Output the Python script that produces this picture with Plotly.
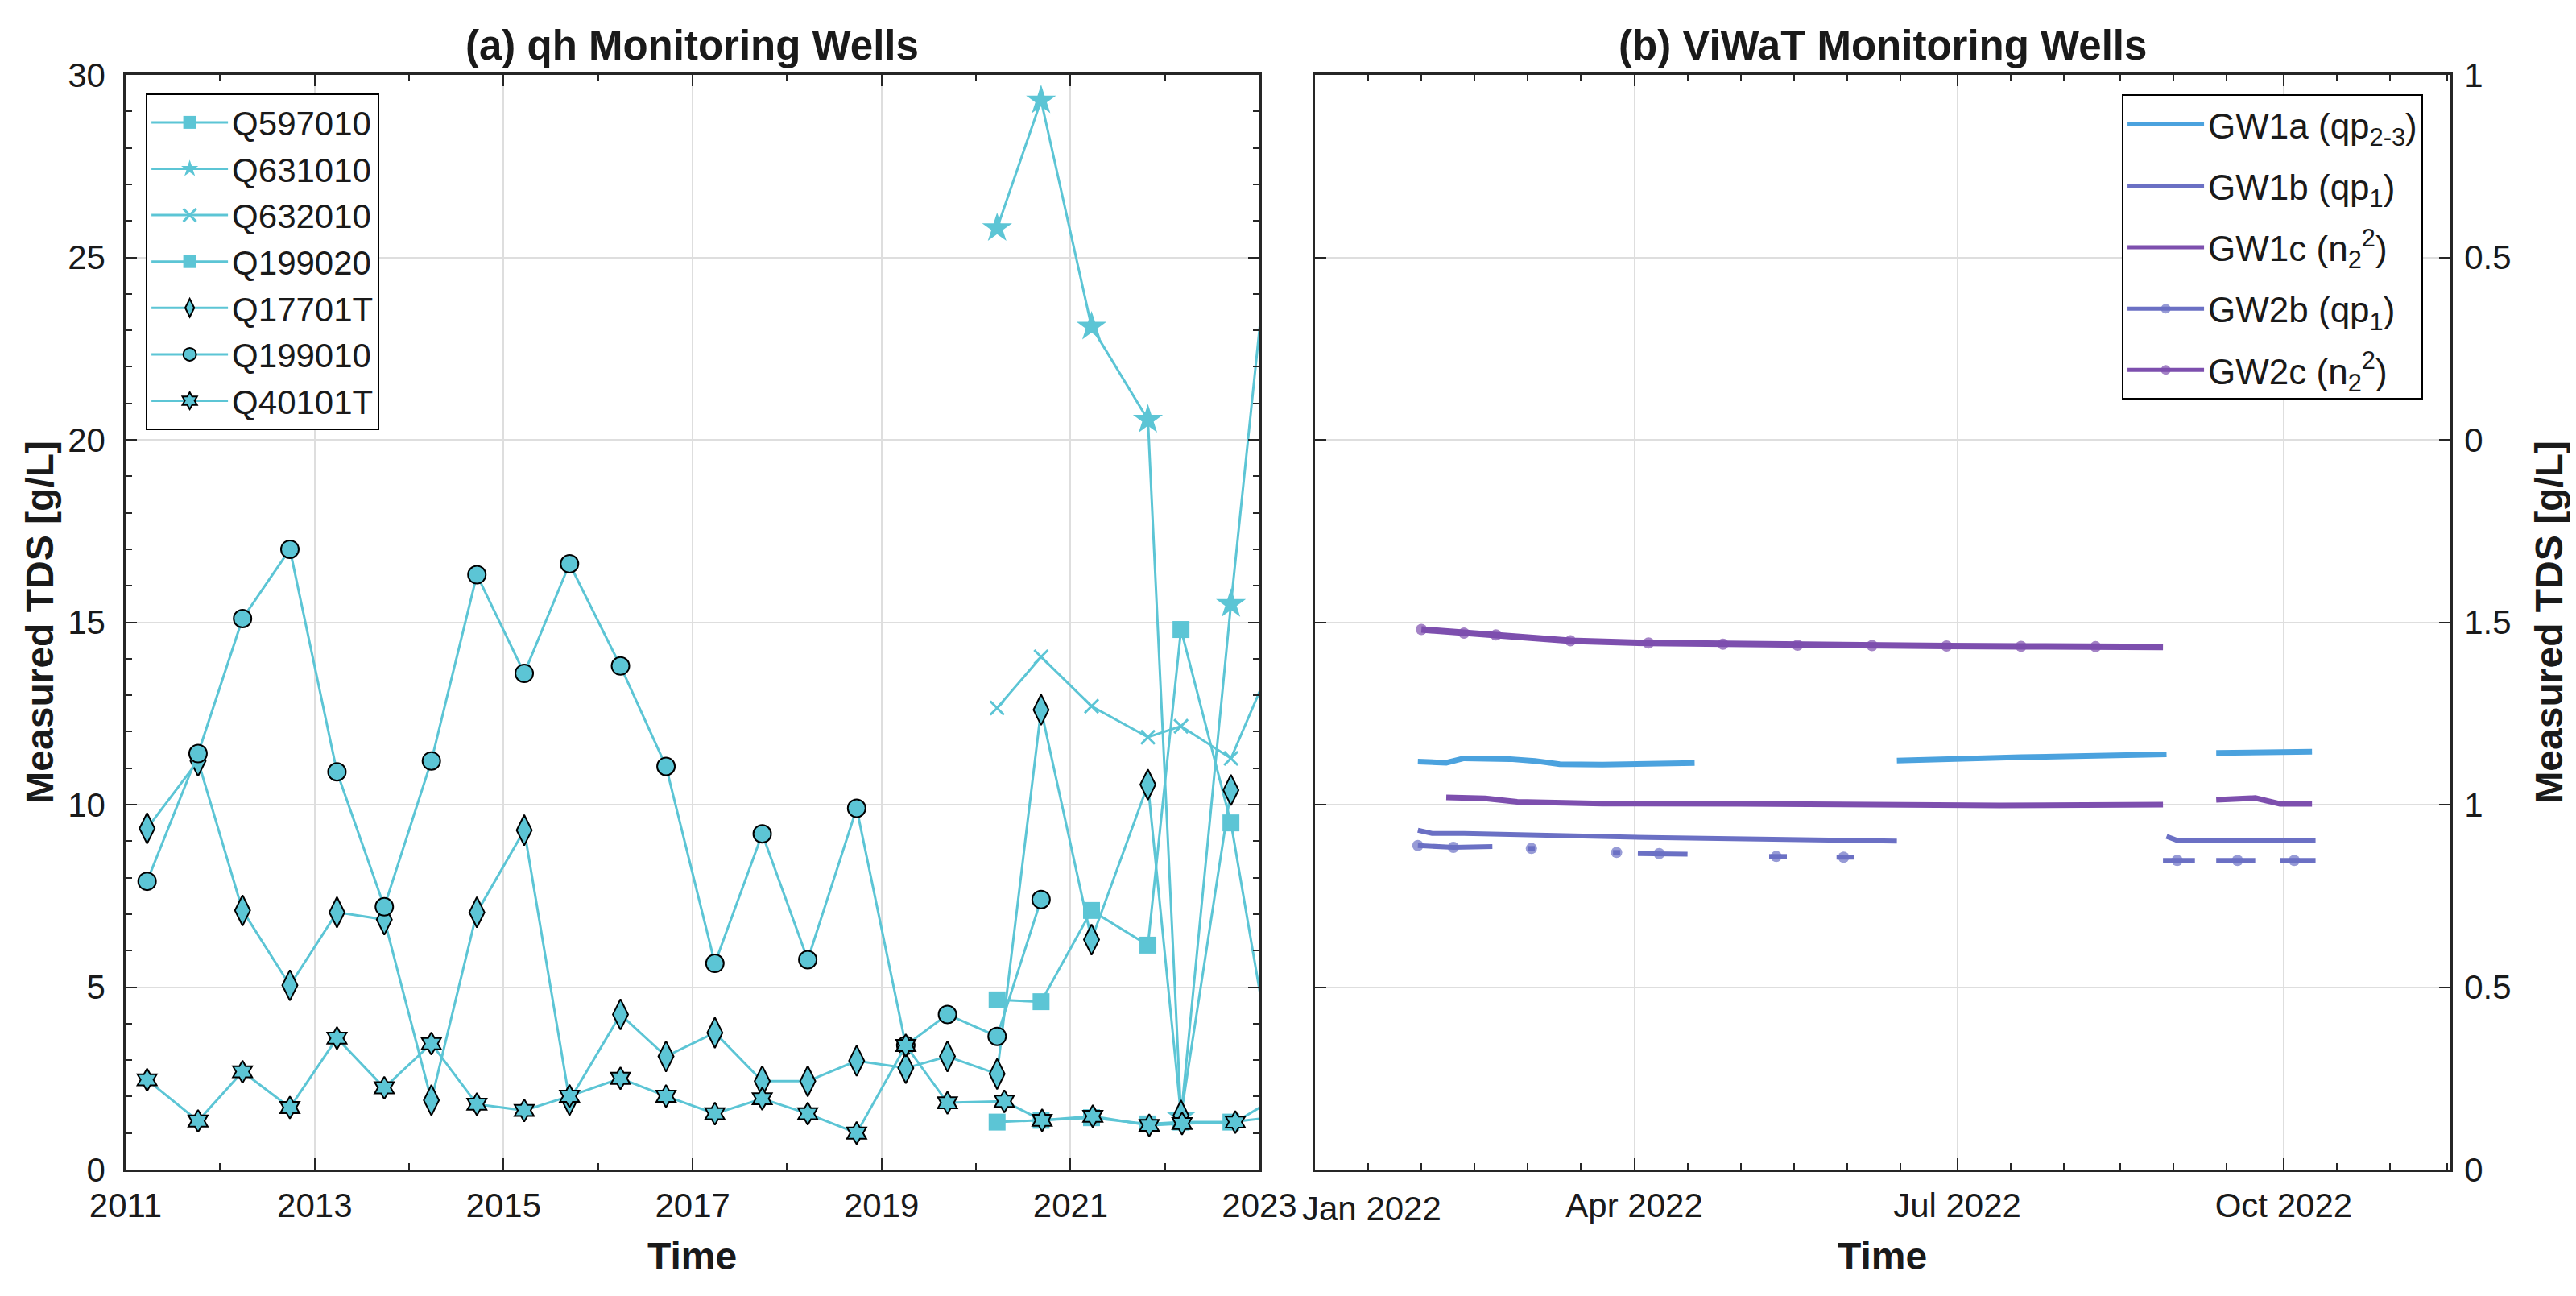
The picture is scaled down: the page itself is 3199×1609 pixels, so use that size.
import plotly.graph_objects as go
import pandas as pd

# ---------------- data: panel (a) qh monitoring wells ----------------
qh_dates = ["2011-03-25", "2011-10-08", "2012-03-28", "2012-09-27", "2013-03-28",
            "2013-09-27", "2014-03-28", "2014-09-20", "2015-03-22", "2015-09-13",
            "2016-03-28", "2016-09-20", "2017-03-28", "2017-09-27", "2018-03-22",
            "2018-09-27", "2019-04-05", "2019-09-13", "2020-03-23", "2020-09-09",
            "2021-03-23", "2021-10-27", "2022-03-04", "2022-09-13", "2023-03-15"]
q40101t_dates = ["2011-03-25", "2011-10-08", "2012-03-28", "2012-09-27", "2013-03-28",
                 "2013-09-27", "2014-03-28", "2014-09-20", "2015-03-22", "2015-09-13",
                 "2016-03-28", "2016-09-20", "2017-03-28", "2017-09-27", "2018-03-22",
                 "2018-09-27", "2019-04-05", "2019-09-13", "2020-04-20", "2020-09-13",
                 "2021-03-28", "2021-11-01", "2022-03-08", "2022-09-30", "2023-03-15"]

N = None
Q597010 = [N] * 18 + [4.65, 4.6, 7.1, 6.15, 14.8, 9.5, 1.9]
Q631010 = [N] * 18 + [25.8, 29.3, 23.1, 20.55, 1.45, 15.5, 28.0]
Q632010 = [N] * 18 + [12.65, 14.05, 12.7, 11.85, 12.15, 11.27, 14.3]
Q199020 = [N] * 18 + [1.3, 1.35, 1.42, 1.25, 1.3, 1.3, 1.45]
Q17701T = [9.35, 11.2, 7.1, 5.05, 7.05, 6.85, 1.9, 7.05, 9.3, 1.9, 4.25, 3.1, 3.75,
           2.42, 2.42, 2.98, 2.78, 3.1, 2.62, 12.6, 6.3, 10.55, 1.48, 10.4, N]
Q199010 = [7.9, 11.4, 15.1, 17.0, 10.9, 7.2, 11.2, 16.3, 13.6, 16.6, 13.8, 11.05, 5.65,
           9.2, 5.75, 9.9, 3.4, 4.25, 3.65, 7.4, N, N, N, N, N]
Q40101T = [2.46, 1.33, 2.68, 1.70, 3.6, 2.24, 3.45, 1.79, 1.62, 2.01, 2.50, 2.01, 1.53,
           1.94, 1.53, 1.0, 3.4, 1.83, 1.87, 1.35, 1.46, 1.21, 1.26, 1.30, 2.0]

# ---------------- data: panel (b) ViWaT monitoring wells ----------------
GW1a_dates = ["2022-01-30", "2022-02-07", "2022-02-12", "2022-02-25", "2022-03-04",
              "2022-03-11", "2022-03-23", "2022-04-18", "2022-05-01", "2022-06-14",
              "2022-06-26", "2022-07-19", "2022-08-29", "2022-09-05", "2022-09-12",
              "2022-10-09"]
GW1a = [1.118, 1.115, 1.127, 1.125, 1.12, 1.111, 1.11, 1.114, N, 1.121,
        1.123, 1.13, 1.138, N, 1.142, 1.145]

GW1b_dates = ["2022-01-30", "2022-02-03", "2022-02-12", "2022-03-03", "2022-04-05",
              "2022-06-14", "2022-07-01", "2022-08-29", "2022-09-01", "2022-10-10"]
GW1b = [0.93, 0.921, 0.921, 0.917, 0.91, 0.90, N, 0.913, 0.902, 0.902]

GW1c_dates = ["2022-02-07", "2022-02-18", "2022-02-27", "2022-03-23", "2022-05-01",
              "2022-07-13", "2022-08-28", "2022-09-05", "2022-09-12", "2022-09-23",
              "2022-09-30", "2022-10-09"]
GW1c = [1.02, 1.017, 1.008, 1.003, 1.002, 0.998, 1.0, N, 1.013, 1.018, 1.002, 1.002]

GW2b_dates = ["2022-01-30", "2022-02-09", "2022-02-20", "2022-02-25",
              "2022-03-02", "2022-03-03", "2022-03-04", "2022-03-15",
              "2022-03-26", "2022-03-27", "2022-03-28", "2022-03-30",
              "2022-04-02", "2022-04-08", "2022-04-16", "2022-04-30",
              "2022-05-09", "2022-05-11", "2022-05-14", "2022-05-20",
              "2022-05-28", "2022-05-30", "2022-06-02", "2022-07-01",
              "2022-08-28", "2022-09-01", "2022-09-06", "2022-09-09",
              "2022-09-12", "2022-09-18", "2022-09-23", "2022-09-27",
              "2022-09-30", "2022-10-04", "2022-10-10"]
GW2b = [0.888, 0.883, 0.885, N,
        0.88, 0.88, 0.88, N,
        0.869, 0.869, 0.869, N,
        0.866, 0.866, 0.864, N,
        0.858, 0.858, 0.858, N,
        0.856, 0.856, 0.856, N,
        0.847, 0.847, 0.847, N,
        0.847, 0.847, 0.847, N,
        0.847, 0.847, 0.847]
GW2b_marks = ["2022-01-30", "2022-02-09", "2022-03-03", "2022-03-27", "2022-04-08",
              "2022-05-11", "2022-05-30", "2022-09-01", "2022-09-18", "2022-10-04"]

GW2c_dates = ["2022-01-31", "2022-02-12", "2022-02-21", "2022-03-14", "2022-04-05",
              "2022-04-26", "2022-05-17", "2022-06-07", "2022-06-28", "2022-07-19",
              "2022-08-09", "2022-08-28"]
GW2c = [1.48, 1.47, 1.465, 1.449, 1.443, 1.44, 1.437, 1.436, 1.435, 1.434, 1.433, 1.432]
GW2c_marks = GW2c_dates[:-1]

right_ytick_vals = [0, 0.5, 1, 1.5, 2, 2.5, 3]
right_ytick_text = ["0", "0.5", "1", "1.5", "0", "0.5", "1"]
right_xtick_vals = ["2022-01-01", "2022-04-01", "2022-07-01", "2022-10-01"]
right_xtick_text = ["", "Apr 2022", "Jul 2022", "Oct 2022"]

# ---------------- styling ----------------
FONT = "Liberation Sans Narrow, Arial Narrow, Liberation Sans, Arial, sans-serif"
CYAN = "#5CC5D5"
BLUE = "#4BA2DE"
VIOLET = "#6B70C4"
PURPLE = "#7D4FAE"
GRID = "#DEDEDE"
AX = "#262626"
TXT = "#1a1a1a"

fig = go.Figure()


def add_qh(name, dates, vals, symbol, size, edge):
    if symbol == "x-thin":
        mk = dict(symbol=symbol, size=size, color=CYAN, line=dict(color=CYAN, width=3))
    else:
        mk = dict(symbol=symbol, size=size, color=CYAN,
                  line=dict(color="black" if edge else CYAN, width=2 if edge else 0))
    fig.add_trace(go.Scatter(x=dates, y=vals, name=name, mode="lines+markers",
                             line=dict(color=CYAN, width=3), marker=mk,
                             xaxis="x", yaxis="y", legend="legend"))


add_qh("Q597010", qh_dates, Q597010, "square", 21, False)
add_qh("Q631010", qh_dates, Q631010, "star", 28, False)
add_qh("Q632010", qh_dates, Q632010, "x-thin", 17, False)
add_qh("Q199020", qh_dates, Q199020, "square", 21, False)
add_qh("Q17701T", qh_dates, Q17701T, "diamond-tall", 27, True)
add_qh("Q199010", qh_dates, Q199010, "circle", 22, True)
add_qh("Q40101T", q40101t_dates, Q40101T, "hexagram", 21, True)


def add_gw(name, dates, vals, color, width, marks=None):
    if marks is None:
        mode, mk = "lines", None
    else:
        mode = "lines+markers"
        sizes = [14 if d in marks else 0 for d in dates]
        mk = dict(symbol="circle", size=sizes, color=color, line=dict(width=0))
    fig.add_trace(go.Scatter(x=dates, y=vals, name=name, mode=mode,
                             line=dict(color=color, width=width), marker=mk,
                             legendgroup=name, xaxis="x2", yaxis="y2", legend="legend2"))


add_gw("GW1a (qp<sub>2-3</sub>)", GW1a_dates, GW1a, BLUE, 7)
add_gw("GW1b (qp<sub>1</sub>)", GW1b_dates, GW1b, VIOLET, 6)
add_gw("GW1c (n<sub>2</sub><sup>2</sup>)", GW1c_dates, GW1c, PURPLE, 7)
add_gw("GW2b (qp<sub>1</sub>)", GW2b_dates, GW2b, VIOLET, 6, GW2b_marks)
add_gw("GW2c (n<sub>2</sub><sup>2</sup>)", GW2c_dates, GW2c, PURPLE, 8, GW2c_marks)

# minor ticks for right panel: each quarter split in six
minor_vals = []
qs = pd.date_range("2022-01-01", "2023-01-01", freq="QS")
for a, b in zip(qs[:-1], qs[1:]):
    for k in range(1, 6):
        minor_vals.append((a + (b - a) * k / 6).strftime("%Y-%m-%d"))
minor_vals = [v for v in minor_vals if v < "2022-11-17"]

common_axis = dict(showline=True, linecolor=AX, linewidth=2.5, mirror="ticks",
                   ticks="inside", ticklen=14, tickwidth=2, tickcolor=AX,
                   showgrid=True, gridcolor=GRID, gridwidth=2, zeroline=False,
                   tickfont=dict(size=42, color=TXT))

L0, L1, R0 = 0.0, 0.4877, 0.5116

fig.update_layout(
    width=3199, height=1609,
    margin=dict(l=148, r=164, t=85, b=165),
    paper_bgcolor="white", plot_bgcolor="white",
    font=dict(family=FONT, size=42, color=TXT),
    xaxis=dict(domain=[L0, L1], anchor="y", type="date",
               range=["2011-01-01", "2023-01-01"],
               tickmode="linear", tick0="2011-01-01", dtick="M24", tickformat="%Y",
               ticklabelstandoff=6,
               minor=dict(dtick="M12", tick0="2011-01-01", ticklen=8, tickwidth=2,
                          tickcolor=AX, ticks="inside", showgrid=False),
               **common_axis),
    yaxis=dict(domain=[0, 1], anchor="x", range=[0, 30], tickmode="linear", dtick=5,
               ticklabelstandoff=14,
               minor=dict(dtick=1, ticklen=8, tickwidth=2, tickcolor=AX,
                          ticks="inside", showgrid=False),
               **common_axis),
    xaxis2=dict(domain=[R0, 1], anchor="y2", type="date",
                range=["2022-01-01", "2022-11-17"],
                tickmode="array", tickvals=right_xtick_vals, ticktext=right_xtick_text,
                ticklabelstandoff=6,
                minor=dict(tickmode="array", tickvals=minor_vals, ticklen=8,
                           tickwidth=2, tickcolor=AX, ticks="inside", showgrid=False),
                **common_axis),
    yaxis2=dict(domain=[0, 1], anchor="x2", side="right", range=[0, 3],
                tickmode="array", tickvals=right_ytick_vals, ticktext=right_ytick_text,
                ticklabelstandoff=6,
                **common_axis),
    legend=dict(x=0.0087, y=0.983, xanchor="left", yanchor="top",
                bgcolor="white", bordercolor="black", borderwidth=2,
                font=dict(size=42), itemsizing="trace", itemwidth=95),
    legend2=dict(x=0.8587, y=0.982, xanchor="left", yanchor="top",
                 bgcolor="white", bordercolor="black", borderwidth=2,
                 font=dict(size=44), itemsizing="constant", itemwidth=95,
                 tracegroupgap=16),
    showlegend=True,
)

ann = [
    dict(text="<b>(a) qh Monitoring Wells</b>", x=(L0 + L1) / 2, y=1.027,
         xref="paper", yref="paper", showarrow=False, font=dict(size=51),
         xanchor="center", yanchor="middle"),
    dict(text="<b>(b) ViWaT Monitoring Wells</b>", x=(R0 + 1) / 2, y=1.027,
         xref="paper", yref="paper", showarrow=False, font=dict(size=51),
         xanchor="center", yanchor="middle"),
    dict(text="<b>Measured TDS [g/L]</b>", x=-0.037, y=0.5, xref="paper", yref="paper",
         textangle=-90, showarrow=False, font=dict(size=48),
         xanchor="center", yanchor="middle"),
    dict(text="<b>Measured TDS [g/L]</b>", x=1.0423, y=0.5, xref="paper", yref="paper",
         textangle=-90, showarrow=False, font=dict(size=48),
         xanchor="center", yanchor="middle"),
    dict(text="<b>Time</b>", x=(L0 + L1) / 2, y=-0.079, xref="paper", yref="paper",
         showarrow=False, font=dict(size=48), xanchor="center", yanchor="middle"),
    dict(text="<b>Time</b>", x=0.7555, y=-0.079, xref="paper", yref="paper",
         showarrow=False, font=dict(size=48), xanchor="center", yanchor="middle"),
    dict(text="Jan 2022", x="2022-01-17", y=-0.036, xref="x2", yref="paper",
         showarrow=False, font=dict(size=42), xanchor="center", yanchor="middle"),
]
fig.update_layout(annotations=ann)

fig.write_html("out.html")
